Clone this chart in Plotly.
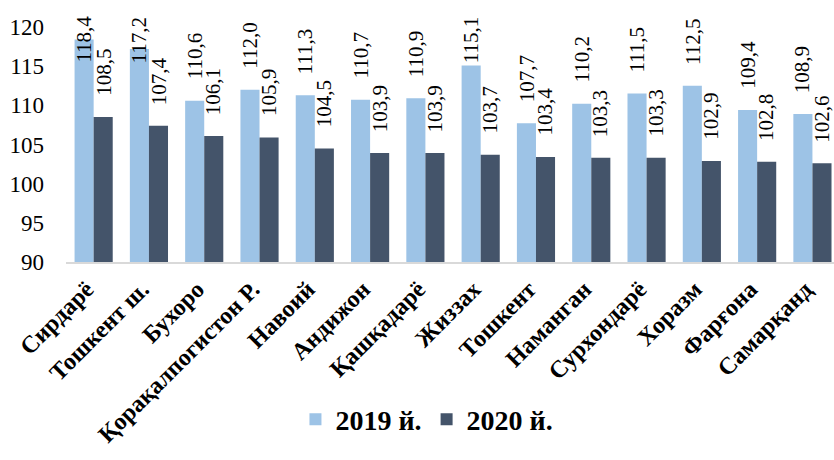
import plotly.graph_objects as go

categories = ["Сирдарё", "Тошкент ш.", "Бухоро", "Қорақалпогистон Р.", "Навоий",
              "Андижон", "Қашқадарё", "Жиззах", "Тошкент", "Наманган",
              "Сурхондарё", "Хоразм", "Фарғона", "Самарқанд"]
values_2019 = [118.4, 117.2, 110.6, 112.0, 111.3, 110.7, 110.9, 115.1, 107.7, 110.2, 111.5, 112.5, 109.4, 108.9]
values_2020 = [108.5, 107.4, 106.1, 105.9, 104.5, 103.9, 103.9, 103.7, 103.4, 103.3, 103.3, 102.9, 102.8, 102.6]
series_names = ["2019 й.", "2020 й."]
y_ticks = [90, 95, 100, 105, 110, 115, 120]

SERIF = "Times New Roman, Liberation Serif, Tinos, serif"
colors = ["#9DC3E6", "#44546A"]

W, H = 834, 460
ML, MR, MT, MB = 66, 0, 27, 198
x_range = [-0.5, 13.39]
y_range = [90, 120]
bargap = 0.31
LABEL_LEN = 48     # approx. pixel length of a rotated value label
LABEL_GAP = 19     # gap between bar top and label
LABEL_TOP = 17     # labels never rise above this pixel row

def fmt(v):
    return f"{v:.1f}".replace(".", ",")

fig = go.Figure()
for name, vals, col in zip(series_names, [values_2019, values_2020], colors):
    fig.add_trace(go.Bar(
        x=categories, y=vals, name=name,
        marker=dict(color=col, line=dict(width=0)),
        hoverinfo="x+y",
    ))

# value labels, rotated, anchored at each bar's top via data coordinates
plot_h = H - MT - MB
px_per_unit = plot_h / (y_range[1] - y_range[0])
px_per_cat = (W - ML - MR) / (x_range[1] - x_range[0])
bar_px = px_per_cat * (1 - bargap) / 2
annotations = []
for si, vals in enumerate([values_2019, values_2020]):
    shift = (si - 0.5) * bar_px
    for cat, v in zip(categories, vals):
        bar_top = MT + (y_range[1] - v) * px_per_unit
        bottom = max(bar_top - LABEL_GAP, LABEL_TOP + LABEL_LEN)
        annotations.append(dict(
            x=cat, y=v, xref="x", yref="y", text=fmt(v), showarrow=False,
            textangle=-90, xshift=shift, yshift=bar_top - bottom,
            yanchor="bottom", xanchor="center",
            font=dict(family=SERIF, size=21, color="black"),
        ))

fig.update_layout(
    width=W, height=H,
    margin=dict(l=ML, r=MR, t=MT, b=MB),
    paper_bgcolor="white", plot_bgcolor="white",
    barmode="group", bargap=bargap, bargroupgap=0,
    annotations=annotations,
    showlegend=True,
    legend=dict(orientation="h", x=0.47, xanchor="center", y=-0.67, yanchor="middle",
                font=dict(family=SERIF, size=28, color="black", weight="bold"),
                itemwidth=30, traceorder="normal"),
    xaxis=dict(range=x_range, showgrid=False, showline=True, linecolor="#D9D9D9",
               linewidth=1.5, tickangle=-45, ticks="", automargin=False,
               ticklabelstandoff=2, ticklabelshift=-7,
               tickfont=dict(family=SERIF, size=24, color="black", weight="bold")),
    yaxis=dict(range=y_range, tickvals=y_ticks, showgrid=False, showline=False,
               zeroline=False, ticks="", ticklabelstandoff=21, automargin=False,
               tickfont=dict(family=SERIF, size=23, color="black")),
)

fig.write_html("out.html", config={"displayModeBar": False},
               post_script="document.body.style.margin='0';document.body.style.padding='0';")
